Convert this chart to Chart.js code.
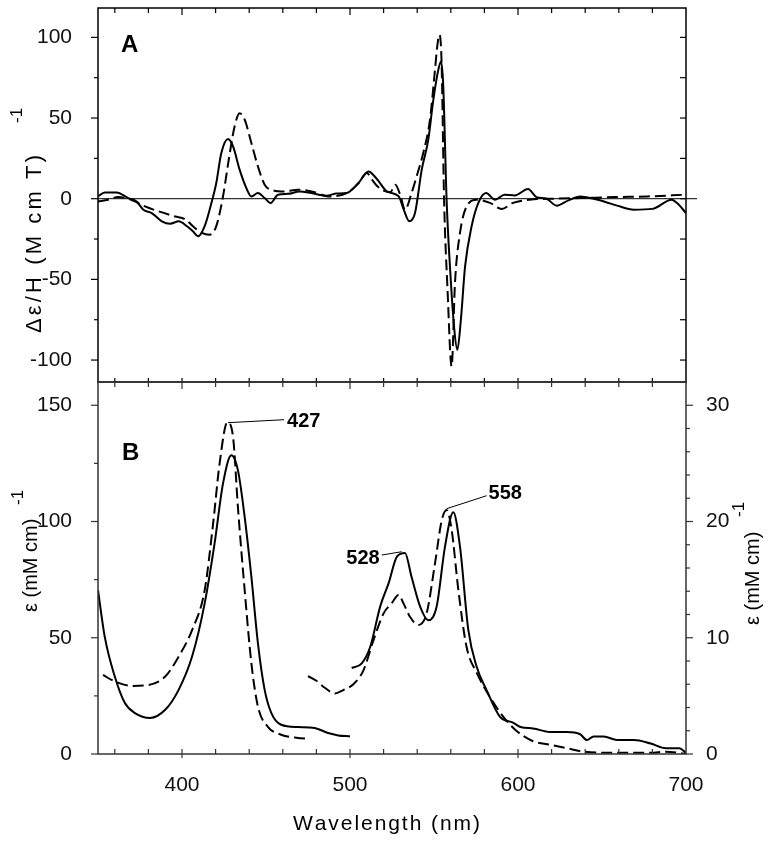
<!DOCTYPE html>
<html>
<head>
<meta charset="utf-8">
<title>MCD and absorption spectra</title>
<script src="https://cdn.jsdelivr.net/npm/chart.js@4.4.1/dist/chart.umd.min.js"></script>
<style>
  html, body { margin: 0; padding: 0; background: #fff; }
  #wrap { position: relative; width: 768px; height: 841px; }
  canvas { position: absolute; left: 0; top: 0; }
</style>
</head>
<body>
<div id="wrap">
  <canvas id="panel-a" width="768" height="841"></canvas>
  <canvas id="panel-b" width="768" height="841"></canvas>
</div>
<script>
// Panel A: MCD, solid and dashed traces
const mcdSolidNm = [350, 354, 361, 368, 373, 377, 382, 388, 393, 398, 403, 406.5, 409.5, 413.5, 417.5, 420.4, 423.4, 427.4, 430.4, 434.3, 438.3, 441.3, 445.2, 449.2, 452.8, 457.1, 463, 470, 477, 486, 492, 498, 505, 511, 516, 522, 529, 532, 535.3, 538.7, 542.7, 546.6, 549.6, 552.6, 554.2, 555.5, 557.5, 559.5, 562, 563.9, 566, 568.5, 572.4, 576.4, 581, 586.3, 592, 598, 606, 611, 617, 623, 630, 637, 645, 652, 659, 669, 680, 691.5, 695, 700];
const mcdSolid = [1.4, 3.9, 3.9, 0.4, -1.7, -6.8, -8.9, -14, -15.5, -14, -17.1, -20.2, -23.3, -17, -2.7, 9.7, 28.3, 37, 32.4, 18, 6.6, 1.4, 3.5, 0.4, -2.7, 2.5, 3, 4.5, 3.5, 1.9, 3.2, 3.5, 9.7, 16.9, 12.2, 4.5, 1.4, -6.8, -14, -8.9, 18, 36.6, 61.3, 80, 85, 70, -0.6, -42, -80, -93.6, -75, -42, -17, -2.6, 3.5, -0.6, 2.5, 2, 6, 1, 0, -4.3, -1, 1.4, 0, -2, -4.3, -6.8, -6.3, -0.6, -3, -8.9];

const mcdDashNm = [350, 356, 362, 368, 372, 378, 386, 396, 401.6, 407.5, 411.5, 416.5, 420.4, 424.4, 427.8, 431.3, 434.3, 437.3, 441.3, 445.2, 449.2, 454.2, 461, 469, 479, 487, 498, 505, 510, 513, 516, 520, 524, 527, 530, 532.7, 536.7, 540, 543.6, 547.6, 550.6, 552, 553.2, 554.5, 556, 558, 560.5, 562.5, 565.5, 569.4, 575.4, 583.3, 590.3, 597, 607, 621, 637, 657, 677, 700];
const mcdDash = [-1.7, -0.6, 1, 0, -1.7, -4.8, -7.8, -11, -12.6, -18, -21, -22.3, -17, 1.4, 24, 44.8, 53, 49, 34.5, 20, 8.7, 5.2, 4.5, 5.6, 4, 1.4, 3.5, 9.5, 16, 12, 8, 5, 4, 8.7, 2, -6.8, 3.7, 15, 28.3, 49, 80, 95, 101.6, 85, -0.6, -55, -104, -52, -21, -4.8, -0.6, -2.6, -6.3, -2.6, -0.6, 0, 0.4, 1, 1.4, 2.5];

// Panel B: absorption, Soret region on the left axis
const absSolidNm = [350, 354, 360, 366, 372, 381, 390, 398, 406, 413.5, 419.4, 424.4, 429.4, 433.3, 437.3, 441.3, 445.2, 449.2, 453.2, 459, 469, 479, 487, 493, 500];
const absSolid = [70.5, 50.5, 33.3, 21.9, 17.6, 15.5, 19, 27.6, 41.9, 64.8, 90.6, 116.3, 128.5, 122, 102, 76.2, 47.6, 27.6, 17.6, 12.6, 11.6, 11.2, 9, 8, 7.6];

const absDashNm = [353, 360, 370, 380, 390, 398, 406, 413.5, 418.5, 422.4, 427, 430.4, 433.3, 437.3, 441.3, 445.2, 451, 459, 469, 475];
const absDash = [34, 31.2, 29.3, 29.7, 33.3, 41.9, 53.3, 70.5, 99, 125, 142.7, 136.3, 106, 70.5, 39, 20.4, 11.8, 8.3, 6.9, 6.6];

// Panel B: visible region on the right axis
const visSolidNm = [501, 507, 512, 518, 523, 528, 532.7, 536.7, 541.7, 546.6, 551.6, 556.5, 561.5, 565.5, 570.4, 575.4, 581.3, 589.3, 597, 602, 609, 619, 629, 637, 641, 645, 651, 659, 669, 679, 688, 696, 700];
const visSolid = [7.4, 7.8, 9.2, 12.7, 14.7, 17, 17.3, 15.2, 12.7, 11.5, 12.7, 17.8, 20.8, 17.8, 10.7, 7.5, 5.5, 3.2, 2.7, 2.3, 2.2, 1.9, 1.9, 1.7, 1.2, 1.5, 1.5, 1.2, 1.2, 0.9, 0.5, 0.5, 0.1];

const visDashNm = [475, 480, 485, 491, 496, 502, 508, 514, 520, 525, 529, 531.7, 535.7, 540.7, 545.6, 550.6, 554.6, 557.5, 560.5, 564.5, 569.4, 575.4, 583.3, 591.3, 599, 609, 619, 629, 639, 659, 679, 688, 700];
const visDash = [6.7, 6.3, 5.7, 5.2, 5.5, 6, 7.2, 9.8, 12.1, 13, 13.7, 13, 11.8, 11.1, 12.1, 16.4, 20.1, 21, 19.3, 14.1, 9.2, 7, 4.9, 3.2, 2, 1.1, 0.8, 0.5, 0.2, 0.1, 0.1, 0.2, 0];

// Tick labels
const xLabelTicks = [400, 500, 600, 700];
const xMarkTicks = [360, 380, 400, 420, 440, 460, 480, 500, 520, 540, 560, 580, 600, 620, 640, 660, 680];
const yTicksA = [-100, -50, 0, 50, 100];
const yMarksA = [-100, -75, -50, -25, 0, 25, 50, 75, 100];
const yTicksB = [0, 50, 100, 150];
const yMarksB = [0, 25, 50, 75, 100, 125, 150];
const yTicksB2 = [0, 10, 20, 30];
const yMarksB2 = [0, 2, 4, 6, 8, 10, 12, 14, 16, 18, 20, 22, 24, 26, 28, 30];

// Peak annotations
const peakLabels = ['427', '528', '558'];
const peakNm = [427.4, 530.8, 557.5];
const peakVal = [142.5, 17.4, 21.1];
const peakAxis = ['y', 'y2', 'y2'];

const FONT = 'Liberation Sans, Arial, sans-serif';
const pairs = (xs, ys) => xs.map((x, i) => ({ x: x, y: ys[i] }));

const lineSet = (data, dashed, axis) => ({
    data: data,
    yAxisID: axis || 'y',
    showLine: true,
    borderColor: '#000',
    borderWidth: 2,
    borderDash: dashed ? [11, 5] : [],
    pointRadius: 0,
    cubicInterpolationMode: 'monotone',
    fill: false
});

function seg(ctx, x1, y1, x2, y2) {
    ctx.beginPath();
    ctx.moveTo(x1, y1);
    ctx.lineTo(x2, y2);
    ctx.stroke();
}

// draw text char by char so it spans a target width (SigmaPlot-like spacing)
function spacedText(ctx, text, x, y, target) {
    const chars = text.split('');
    const natural = chars.reduce((s, c) => s + ctx.measureText(c).width, 0);
    const extra = chars.length > 1 ? (target - natural) / (chars.length - 1) : 0;
    let cx = x;
    chars.forEach((c) => {
        ctx.fillText(c, cx, y);
        cx += ctx.measureText(c).width + extra;
    });
}

// rotated axis title with a superscript; target null keeps natural spacing
function rotatedTitle(ctx, text, sup, cx, yStart, target, supX, supY, size) {
    ctx.save();
    ctx.translate(cx, yStart);
    ctx.rotate(-Math.PI / 2);
    ctx.font = (size || 21) + 'px ' + FONT;
    ctx.textAlign = 'left';
    ctx.textBaseline = 'middle';
    if (target) {
        spacedText(ctx, text, 0, 0, target);
    } else {
        ctx.fillText(text, 0, 0);
    }
    ctx.restore();
    ctx.save();
    ctx.translate(supX, supY);
    ctx.rotate(-Math.PI / 2);
    ctx.font = '17px ' + FONT;
    ctx.textAlign = 'left';
    ctx.textBaseline = 'middle';
    ctx.fillText(sup, 0, 0);
    ctx.restore();
}

const panelAExtras = {
    id: 'panelAExtras',
    afterDraw(chart) {
        const { ctx, chartArea: a, scales } = chart;
        const x = scales.x, y = scales.y;
        ctx.save();
        ctx.strokeStyle = '#000';
        ctx.lineWidth = 1.5;
        ctx.strokeRect(a.left, a.top, a.right - a.left, a.bottom - a.top);

        // zero line, runs a bit past the right axis
        ctx.lineWidth = 1;
        const y0 = y.getPixelForValue(0);
        seg(ctx, a.left - 1, y0, a.right + 11, y0);

        // x ticks, inside at top and bottom
        ctx.lineWidth = 1.2;
        xMarkTicks.forEach((v) => {
            const px = x.getPixelForValue(v);
            const len = v % 100 === 0 ? 7 : 5;
            seg(ctx, px, a.top, px, a.top + len);
            seg(ctx, px, a.bottom, px, a.bottom - 4);
        });
        // y ticks, outside on the left, inside on the right
        yMarksA.forEach((v) => {
            const py = y.getPixelForValue(v);
            const len = v % 50 === 0 ? 7 : 4;
            seg(ctx, a.left - len, py, a.left, py);
            seg(ctx, a.right - 6, py, a.right, py);
        });

        ctx.fillStyle = '#000';
        ctx.font = 'bold 24px ' + FONT;
        ctx.textAlign = 'left';
        ctx.textBaseline = 'alphabetic';
        ctx.fillText('A', a.left + 23, a.top + 44);

        rotatedTitle(ctx, '\u0394\u03b5/H (M cm T)', '-1', 35, 333, 178, 17, 123, 22);
        ctx.restore();
    }
};

const panelBExtras = {
    id: 'panelBExtras',
    afterDraw(chart) {
        const { ctx, chartArea: a, scales } = chart;
        const x = scales.x, y = scales.y, y2 = scales.y2;
        ctx.save();
        ctx.strokeStyle = '#333';
        ctx.lineWidth = 1.5;
        ctx.strokeRect(a.left, a.top, a.right - a.left, a.bottom - a.top);

        ctx.lineWidth = 1.2;
        xMarkTicks.forEach((v) => {
            const px = x.getPixelForValue(v);
            const major = v % 100 === 0;
            seg(ctx, px, a.top, px, a.top + (major ? 7 : 5));
            seg(ctx, px, a.bottom + (major ? 4 : 0), px, a.bottom - 5);
        });
        yMarksB.forEach((v) => {
            const py = y.getPixelForValue(v);
            const len = v % 50 === 0 ? 7 : 4;
            seg(ctx, a.left - len, py, a.left, py);
        });
        yMarksB2.forEach((v) => {
            const py = y2.getPixelForValue(v);
            const len = v % 10 === 0 ? 7 : 4;
            seg(ctx, a.right, py, a.right + len, py);
        });

        // peak labels with leader lines
        ctx.strokeStyle = '#000';
        ctx.lineWidth = 1;
        ctx.fillStyle = '#000';
        ctx.font = 'bold 20px ' + FONT;
        ctx.textBaseline = 'middle';
        const offsets = [[56, -3, 59, -1, 'left'], [-20, 3.3, -22, 7, 'right'], [40, -13, 42, -15, 'left']];
        peakLabels.forEach((lab, i) => {
            const sx = x.getPixelForValue(peakNm[i]);
            const sy = scales[peakAxis[i]].getPixelForValue(peakVal[i]);
            const o = offsets[i];
            seg(ctx, sx, sy, sx + o[0], sy + o[1]);
            ctx.textAlign = o[4];
            ctx.fillText(lab, sx + o[2], sy + o[3]);
        });

        ctx.font = 'bold 24px ' + FONT;
        ctx.textAlign = 'left';
        ctx.textBaseline = 'alphabetic';
        ctx.fillText('B', a.left + 24, a.top + 78);

        rotatedTitle(ctx, '\u03b5 (mM cm)', '-1', 31, 612, null, 18, 505, 20);
        rotatedTitle(ctx, '\u03b5 (mM cm)', '-1', 753, 625, null, 739, 517, 20);

        // x axis title
        ctx.fillStyle = '#000';
        ctx.font = '21px ' + FONT;
        ctx.textAlign = 'left';
        ctx.textBaseline = 'alphabetic';
        spacedText(ctx, 'Wavelength (nm)', 293, 830, 187);
        ctx.restore();
    }
};

const tickFont = { family: FONT, size: 21 };
const setTicks = (list) => (scale) => { scale.ticks = list.map((v) => ({ value: v })); };
const fixWidth = (w) => (s) => { s.width = w; s.paddingTop = 0; s.paddingBottom = 0; };

new Chart(document.getElementById('panel-a'), {
    type: 'scatter',
    data: {
        datasets: [
            lineSet(pairs(mcdSolidNm, mcdSolid), false),
            lineSet(pairs(mcdDashNm, mcdDash), true)
        ]
    },
    options: {
        responsive: false,
        animation: false,
        layout: { padding: { top: 8, right: 82, bottom: 459, left: 0 } },
        plugins: { legend: { display: false }, tooltip: { enabled: false } },
        scales: {
            x: { type: 'linear', min: 350, max: 700, display: false },
            y: {
                type: 'linear', min: -113.6, max: 118.2,
                grid: { display: false }, border: { display: false },
                afterBuildTicks: setTicks(yTicksA),
                afterFit: fixWidth(98),
                ticks: { font: tickFont, color: '#111', padding: 18 }
            }
        }
    },
    plugins: [panelAExtras]
});

new Chart(document.getElementById('panel-b'), {
    type: 'scatter',
    data: {
        datasets: [
            lineSet(pairs(absSolidNm, absSolid), false),
            lineSet(pairs(absDashNm, absDash), true),
            lineSet(pairs(visSolidNm, visSolid), false, 'y2'),
            lineSet(pairs(visDashNm, visDash), true, 'y2')
        ]
    },
    options: {
        responsive: false,
        animation: false,
        layout: { padding: { top: 382, right: 0, bottom: 0, left: 0 } },
        plugins: { legend: { display: false }, tooltip: { enabled: false } },
        scales: {
            x: {
                type: 'linear', min: 350, max: 700,
                grid: { display: false }, border: { display: false },
                afterBuildTicks: setTicks(xLabelTicks),
                afterFit: (s) => { s.height = 87; },
                ticks: { font: tickFont, color: '#111', padding: 11, maxRotation: 0 }
            },
            y: {
                type: 'linear', position: 'left', min: 0, max: 160,
                grid: { display: false }, border: { display: false },
                afterBuildTicks: setTicks(yTicksB),
                afterFit: fixWidth(98),
                ticks: { font: tickFont, color: '#111', padding: 18 }
            },
            y2: {
                type: 'linear', position: 'right', min: 0, max: 32,
                grid: { display: false }, border: { display: false },
                afterBuildTicks: setTicks(yTicksB2),
                afterFit: fixWidth(82),
                ticks: { font: tickFont, color: '#111', padding: 12 }
            }
        }
    },
    plugins: [panelBExtras]
});
</script>
</body>
</html>
